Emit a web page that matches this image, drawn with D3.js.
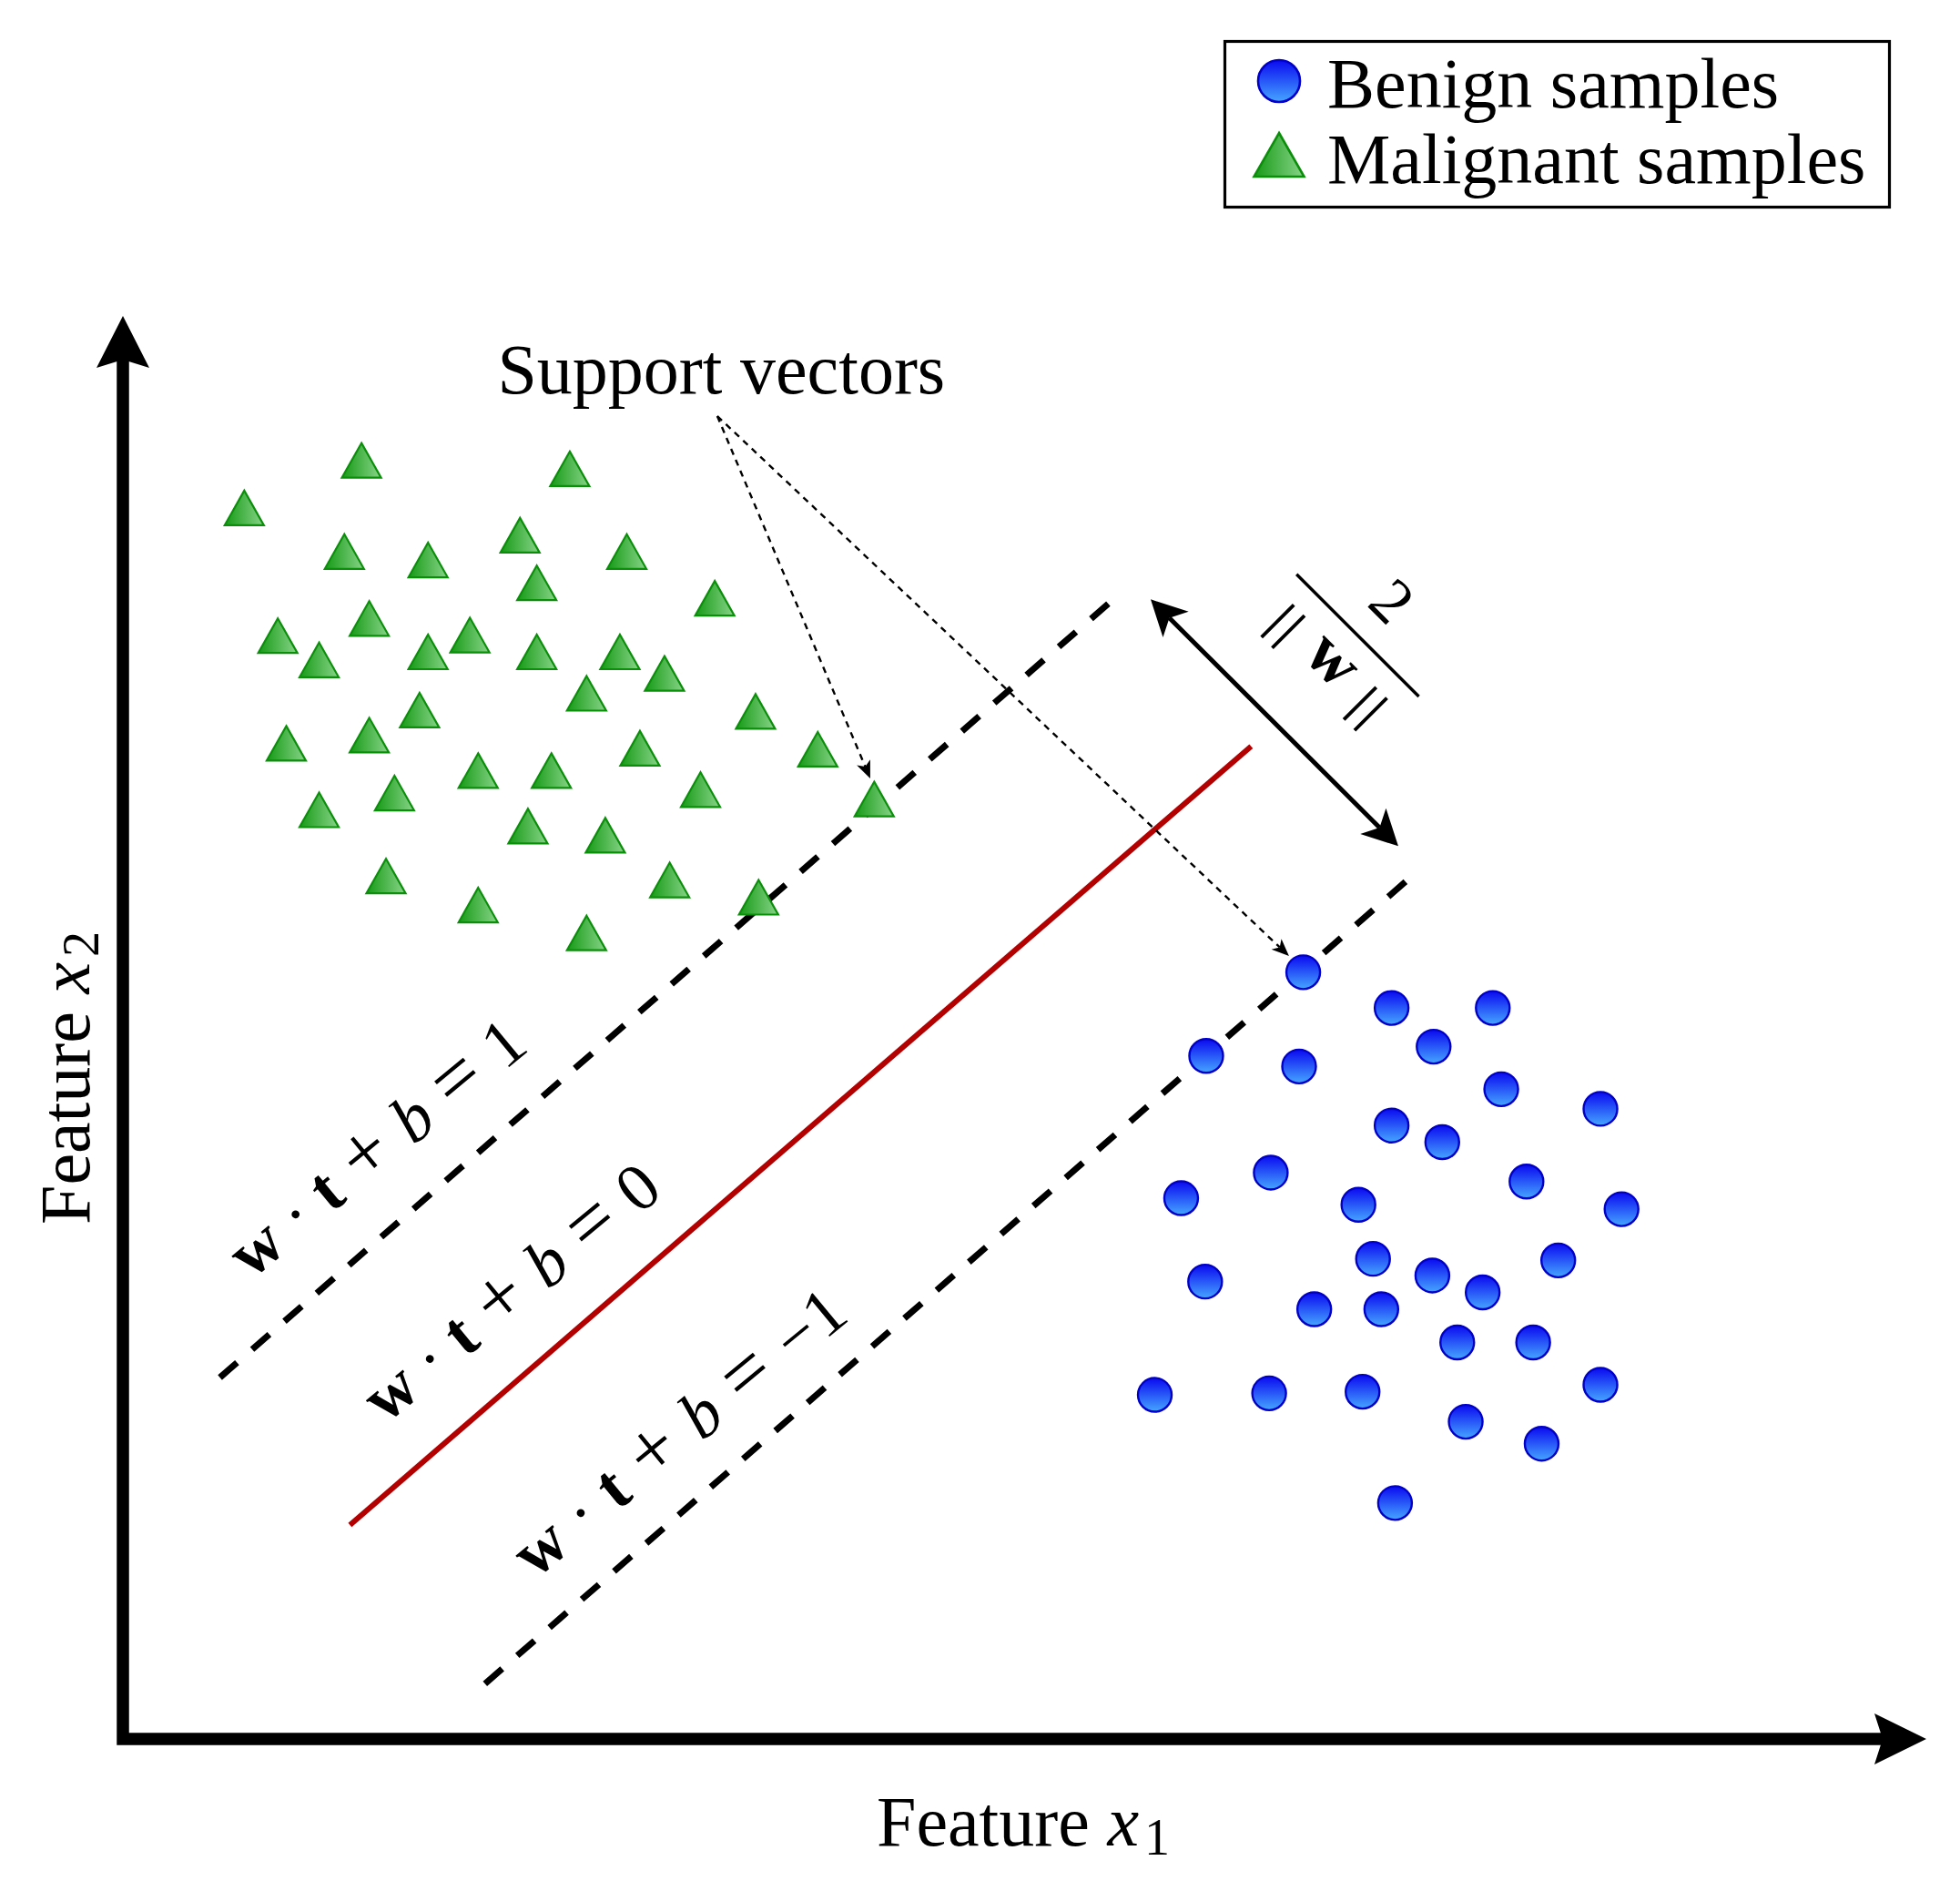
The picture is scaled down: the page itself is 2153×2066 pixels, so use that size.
<!DOCTYPE html>
<html>
<head>
<meta charset="utf-8">
<script src="https://cdn.jsdelivr.net/npm/d3@7"></script>
<style>
  html, body { margin: 0; padding: 0; background: #fff; }
  svg { display: block; }
  text { font-family: "Liberation Serif", "Times New Roman", serif; fill: #000; white-space: pre; }
</style>
</head>
<body>
<svg id="chart"></svg>
<script>
// Sample positions, in feature units (origin = axes corner, both axes 0..100)
const malignantX = [13.23, 24.78, 6.73, 12.28, 16.92, 22.02, 27.94, 22.95, 32.82, 13.66,
                    8.59, 10.88, 19.24, 16.92, 22.95, 27.56, 30.03, 25.71, 35.08, 16.45,
                    13.66, 9.06, 28.67, 38.53, 19.70, 23.76, 15.06, 10.88, 32.03, 41.66,
                    22.46, 26.75, 14.59, 30.32, 19.70, 35.25, 25.71];
const malignantY = [89.85, 89.26, 86.51, 83.44, 82.85, 84.59, 83.44, 81.24, 80.16, 78.74,
                    77.53, 75.83, 77.57, 76.39, 76.39, 76.39, 74.88, 73.48, 72.21, 72.30,
                    70.54, 69.97, 69.62, 69.55, 68.05, 68.05, 66.47, 65.29, 66.71, 66.05,
                    64.15, 63.51, 60.64, 60.36, 58.60, 59.15, 56.64];

const benignX = [65.45, 70.35, 75.96, 72.68, 60.07, 65.22, 76.43, 81.93, 70.35, 73.16,
                 63.65, 58.68, 77.83, 68.51, 83.10, 69.32, 79.59, 60.01, 72.61, 75.40,
                 66.06, 69.78, 73.99, 78.20, 57.22, 63.56, 68.74, 81.93, 74.46, 78.67, 70.54];
const benignY = [53.88, 51.37, 51.37, 48.65, 48.00, 47.26, 45.66, 44.28, 43.11, 41.94,
                 39.80, 38.00, 39.17, 37.54, 37.23, 33.74, 33.63, 32.14, 32.57, 31.38,
                 30.20, 30.20, 27.86, 27.86, 24.18, 24.29, 24.40, 24.89, 22.29, 20.75, 16.58];

// Decision boundary and margins (end points)
const hyperplane  = [[12.59, 15.03], [62.56, 69.76]];  // w.t+b=0
const marginPlus  = [[5.38, 25.40], [54.80, 79.95]];   // w.t+b=1
const marginMinus = [[20.08, 3.88], [71.23, 60.36]];   // w.t+b=-1
const marginArrow = [[56.99, 80.08], [70.72, 62.74]];

// Support vector callouts
const supportFrom = [32.96, 92.96];
const supportTo = [[41.44, 67.50], [64.66, 55.02]];

const legendLabels = ['Benign samples', 'Malignant samples'];
const planeRhs = ['1', '0', '\u22121'];

// annotation anchors (feature units)
const planeLabelAt = [[7.10, 32.25], [14.55, 22.10], [22.85, 11.20]];
const planeLabelLen = [398, 398, 450];
const supportLabelAt = [20.77, 94.56];
const fractionAt = [68.47, 77.55];

const W = 2153, H = 2066;
const svg = d3.select('#chart').attr('width', W).attr('height', H);
svg.append('rect').attr('width', W).attr('height', H).attr('fill', '#fff');

const x = d3.scaleLinear().domain([0, 100]).range([135, 2116]);
const y = d3.scaleLinear().domain([0, 100]).range([1910, 347]);

// gradients
const defs = svg.append('defs');
const gb = defs.append('linearGradient').attr('id', 'ballBlue')
  .attr('x1', 0).attr('y1', 0).attr('x2', 0).attr('y2', 1);
gb.append('stop').attr('offset', '0%').attr('stop-color', '#0a0af0');
gb.append('stop').attr('offset', '100%').attr('stop-color', '#45a6ff');
const gg = defs.append('linearGradient').attr('id', 'triGreen')
  .attr('x1', 0).attr('y1', 0).attr('x2', 1).attr('y2', 0);
gg.append('stop').attr('offset', '0%').attr('stop-color', '#169a16');
gg.append('stop').attr('offset', '100%').attr('stop-color', '#88d488');

// stealth-ish arrow head, returns the notch point where the shaft should end
function arrowHead(g, x1, y1, x2, y2, L, Wd, notch) {
  const len = Math.hypot(x2 - x1, y2 - y1);
  const ux = (x2 - x1) / len, uy = (y2 - y1) / len, px = -uy, py = ux;
  const bx = x2 - L * ux, by = y2 - L * uy;
  const nx = x2 - (L - notch) * ux, ny = y2 - (L - notch) * uy;
  g.append('path')
    .attr('d', `M${x2},${y2}L${bx + Wd * px},${by + Wd * py}L${nx},${ny}L${bx - Wd * px},${by - Wd * py}Z`)
    .attr('fill', '#000');
  return [nx, ny];
}

function triPath(cx, cy, hw, hh) {
  return `M${cx},${cy - hh}L${cx + hw},${cy + hh}L${cx - hw},${cy + hh}Z`;
}

// axes
const axes = svg.append('g');
const xEnd = arrowHead(axes, x(0), y(0), x(100), y(0), 57, 28, 9);
const yEnd = arrowHead(axes, x(0), y(0), x(0), y(100), 57, 29, 9);
axes.append('path')
  .attr('d', `M${xEnd[0]},${xEnd[1]}L${x(0)},${y(0)}L${yEnd[0]},${yEnd[1]}`)
  .attr('fill', 'none').attr('stroke', '#000').attr('stroke-width', 13.5)
  .attr('stroke-linecap', 'square').attr('stroke-linejoin', 'miter');

// margins
[marginPlus, marginMinus].forEach(seg => {
  svg.append('line')
    .attr('x1', x(seg[0][0])).attr('y1', y(seg[0][1]))
    .attr('x2', x(seg[1][0])).attr('y2', y(seg[1][1]))
    .attr('stroke', '#000').attr('stroke-width', 7)
    .attr('stroke-dasharray', '25,22');
});

// hyperplane
svg.append('line')
  .attr('x1', x(hyperplane[0][0])).attr('y1', y(hyperplane[0][1]))
  .attr('x2', x(hyperplane[1][0])).attr('y2', y(hyperplane[1][1]))
  .attr('stroke', '#b30000').attr('stroke-width', 6);

// support vector callouts
const sv = svg.append('g');
supportTo.forEach(t => {
  const end = arrowHead(sv, x(supportFrom[0]), y(supportFrom[1]), x(t[0]), y(t[1]), 19, 8, 5);
  sv.append('line')
    .attr('x1', x(supportFrom[0])).attr('y1', y(supportFrom[1]))
    .attr('x2', end[0]).attr('y2', end[1])
    .attr('stroke', '#000').attr('stroke-width', 2.4)
    .attr('stroke-dasharray', '7,6');
});

// samples
svg.append('g').selectAll('path')
  .data(d3.range(malignantX.length))
  .join('path')
  .attr('d', i => triPath(x(malignantX[i]), y(malignantY[i]), 21.5, 19))
  .attr('fill', 'url(#triGreen)').attr('stroke', '#0b8f0b').attr('stroke-width', 2.2);

svg.append('g').selectAll('circle')
  .data(d3.range(benignX.length))
  .join('circle')
  .attr('cx', i => x(benignX[i])).attr('cy', i => y(benignY[i]))
  .attr('r', 18.5)
  .attr('fill', 'url(#ballBlue)').attr('stroke', '#0000c8').attr('stroke-width', 2.4);

// margin width arrow
const ma = svg.append('g');
const a1 = [x(marginArrow[0][0]), y(marginArrow[0][1])];
const a2 = [x(marginArrow[1][0]), y(marginArrow[1][1])];
const e1 = arrowHead(ma, a2[0], a2[1], a1[0], a1[1], 39, 20, 10);
const e2 = arrowHead(ma, a1[0], a1[1], a2[0], a2[1], 39, 20, 10);
ma.append('line')
  .attr('x1', e1[0]).attr('y1', e1[1]).attr('x2', e2[0]).attr('y2', e2[1])
  .attr('stroke', '#000').attr('stroke-width', 5);

// 2 / ||w||
const fr = svg.append('g')
  .attr('transform', `translate(${x(fractionAt[0])},${y(fractionAt[1])}) rotate(45)`);
fr.append('line').attr('x1', -95).attr('x2', 95).attr('y1', 0).attr('y2', 0)
  .attr('stroke', '#000').attr('stroke-width', 3.4);
fr.append('text').attr('x', 0).attr('y', -30).attr('text-anchor', 'middle')
  .attr('font-size', 70).text('2');
fr.append('text').attr('x', -62).attr('y', 64).attr('text-anchor', 'middle')
  .attr('font-size', 54).attr('letter-spacing', 6)
  .attr('stroke', '#000').attr('stroke-width', 1.2).text('||');
fr.append('text').attr('x', 0).attr('y', 60).attr('text-anchor', 'middle')
  .attr('font-size', 74).attr('font-weight', 'bold').text('w');
fr.append('text').attr('x', 66).attr('y', 64).attr('text-anchor', 'middle')
  .attr('font-size', 54).attr('letter-spacing', 6)
  .attr('stroke', '#000').attr('stroke-width', 1.2).text('||');

// hyperplane labels
planeRhs.forEach((rhs, i) => {
  const t = svg.append('text')
    .attr('transform', `translate(${x(planeLabelAt[i][0])},${y(planeLabelAt[i][1])}) rotate(-39.5)`)
    .attr('font-size', 74)
    .attr('textLength', planeLabelLen[i]).attr('lengthAdjust', 'spacing');
  t.append('tspan').attr('font-weight', 'bold').text('w');
  t.append('tspan').text(' \u00b7 ');
  t.append('tspan').attr('font-weight', 'bold').text('t');
  t.append('tspan').attr('font-size', 88).text(' + ');
  t.append('tspan').attr('font-style', 'italic').text('b');
  t.append('tspan').attr('font-size', 88).text(' = ');
  t.append('tspan').text(rhs);
});

// support vectors label
svg.append('text')
  .attr('x', x(supportLabelAt[0])).attr('y', y(supportLabelAt[1]))
  .attr('font-size', 78).text('Support vectors');

// axis labels
const xl = svg.append('text').attr('x', 963).attr('y', 2027).attr('font-size', 78);
xl.append('tspan').text('Feature ');
xl.append('tspan').attr('font-style', 'italic').text('x');
xl.append('tspan').attr('font-size', 56).attr('dx', 6).attr('dy', 10).text('1');

const yl = svg.append('text').attr('transform', 'translate(98,1345) rotate(-90)').attr('font-size', 78);
yl.append('tspan').text('Feature ');
yl.append('tspan').attr('font-style', 'italic').text('x');
yl.append('tspan').attr('font-size', 56).attr('dx', 6).attr('dy', 10).text('2');

// legend
const lg = svg.append('g');
lg.append('rect').attr('x', 1345.5).attr('y', 45.5).attr('width', 730).attr('height', 182)
  .attr('fill', '#fff').attr('stroke', '#000').attr('stroke-width', 3.2);
lg.append('circle').attr('cx', 1405).attr('cy', 89).attr('r', 23)
  .attr('fill', 'url(#ballBlue)').attr('stroke', '#0000c8').attr('stroke-width', 2.6);
lg.append('path').attr('d', triPath(1405, 170, 27.5, 24))
  .attr('fill', 'url(#triGreen)').attr('stroke', '#0b8f0b').attr('stroke-width', 2.6);
lg.selectAll('text.lab').data(legendLabels).join('text')
  .attr('class', 'lab')
  .attr('x', 1458).attr('y', (d, i) => 118 + i * 83)
  .attr('font-size', 78).text(d => d);
</script>
</body>
</html>
